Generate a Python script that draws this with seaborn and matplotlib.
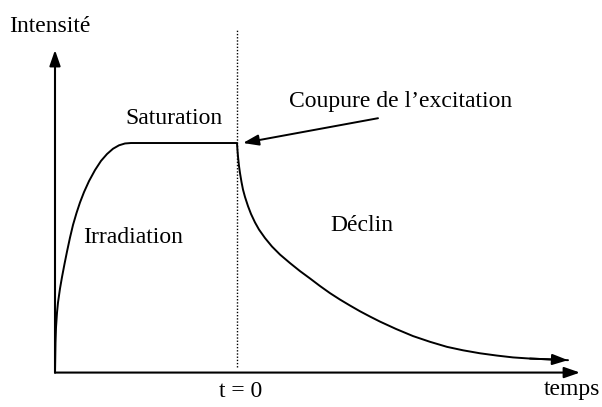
import matplotlib
matplotlib.use("Agg")
import matplotlib.pyplot as plt
import pandas as pd
import seaborn as sns

# Irradiation phase (time relative to the cut-off, intensity normalised to saturation)
t_irr = [-1.82, -1.815, -1.81, -1.80, -1.79, -1.77, -1.75, -1.725, -1.70, -1.67, -1.64,
         -1.605, -1.57, -1.53, -1.48, -1.42, -1.36, -1.30, -1.24, -1.18, -1.12, -1.06]
i_irr = [0.0, 0.131, 0.196, 0.261, 0.305, 0.366, 0.416, 0.473, 0.527, 0.588, 0.643,
         0.695, 0.741, 0.786, 0.834, 0.882, 0.922, 0.952, 0.975, 0.990, 0.998, 1.0]

# Saturation plateau up to the cut-off at t = 0
t_sat = [-1.06, 0.0]
i_sat = [1.0, 1.0]

# Decay after the excitation is switched off
t_dec = [0.0, 0.005, 0.01, 0.02, 0.03, 0.045, 0.06, 0.08, 0.11, 0.14, 0.18, 0.22,
         0.28, 0.35, 0.43, 0.53, 0.63, 0.73, 0.83, 0.93, 1.03, 1.13, 1.23, 1.33,
         1.43, 1.59, 1.76, 1.93, 2.10, 2.26, 2.43, 2.60, 2.76, 2.93, 3.10, 3.31]
i_dec = [1.0, 0.967, 0.941, 0.900, 0.869, 0.830, 0.797, 0.765, 0.725, 0.691, 0.654, 0.623,
         0.586, 0.549, 0.514, 0.477, 0.442, 0.410, 0.377, 0.346, 0.318, 0.292, 0.267, 0.244,
         0.222, 0.190, 0.159, 0.134, 0.112, 0.097, 0.084, 0.074, 0.066, 0.061, 0.058, 0.054]

# Axis extents
t_axis_start, t_axis_end = -1.82, 3.43
i_axis_end = 1.405
dotted_top = 1.492

labels = {
    "Intensité": (-1.87, 1.485),
    "Saturation": (-0.63, 1.083),
    "Irradiation": (-1.044, 0.564),
    "Déclin": (1.25, 0.618),
    "t = 0": (0.04, -0.105),
    "temps": (3.35, -0.098),
}
cut_label = "Coupure de l\u2019excitation"
cut_label_pos = (1.64, 1.157)
cut_arrow_tail = (1.41, 1.108)
cut_arrow_tip = (0.06, 1.0)

sns.set_theme(style="white")
plt.rcParams["font.family"] = ["Liberation Serif", "DejaVu Serif"]

curve = pd.DataFrame({
    "temps": t_irr + t_sat + t_dec,
    "intensite": i_irr + i_sat + i_dec,
})

fig = plt.figure(figsize=(6.02, 4.07), dpi=100)
ax = fig.add_axes([0, 0, 1, 1])
ax.set_xlim(-2.37, 3.65)
ax.set_ylim(-0.150, 1.623)
ax.set_axis_off()

sns.lineplot(data=curve, x="temps", y="intensite", sort=False, estimator=None,
             color="black", linewidth=1.4, ax=ax)

head = "-|>,head_length=0.95,head_width=0.33"

# Arrowhead at the end of the decay
ax.annotate("", xy=(t_dec[-1], i_dec[-1]), xytext=(t_dec[-3], i_dec[-3]),
            arrowprops=dict(arrowstyle=head, color="black", lw=1.4,
                            mutation_scale=10, shrinkA=0, shrinkB=0))

# Axes drawn as arrows
ax.annotate("", xy=(t_axis_end, 0), xytext=(t_axis_start, 0),
            arrowprops=dict(arrowstyle=head, color="black", lw=1.5,
                            mutation_scale=10, shrinkA=0, shrinkB=0))
ax.annotate("", xy=(t_axis_start, i_axis_end), xytext=(t_axis_start, 0),
            arrowprops=dict(arrowstyle=head, color="black", lw=1.5,
                            mutation_scale=10, shrinkA=0, shrinkB=0))

# Cut-off marker at t = 0
ax.plot([0, 0], [0.024, dotted_top], color="black", lw=1.0,
        linestyle=(0, (1, 1.3)))

fs = 17
for text, (x, y) in labels.items():
    ax.text(x, y, text, fontsize=fs, ha="center", va="baseline", color="black")

ax.text(*cut_label_pos, cut_label, fontsize=fs, ha="center", va="baseline", color="black")
ax.annotate("", xy=cut_arrow_tip, xytext=cut_arrow_tail,
            arrowprops=dict(arrowstyle=head, color="black", lw=1.4,
                            mutation_scale=10, shrinkA=0, shrinkB=0))

fig.savefig("out.png", dpi=100, facecolor="white")
